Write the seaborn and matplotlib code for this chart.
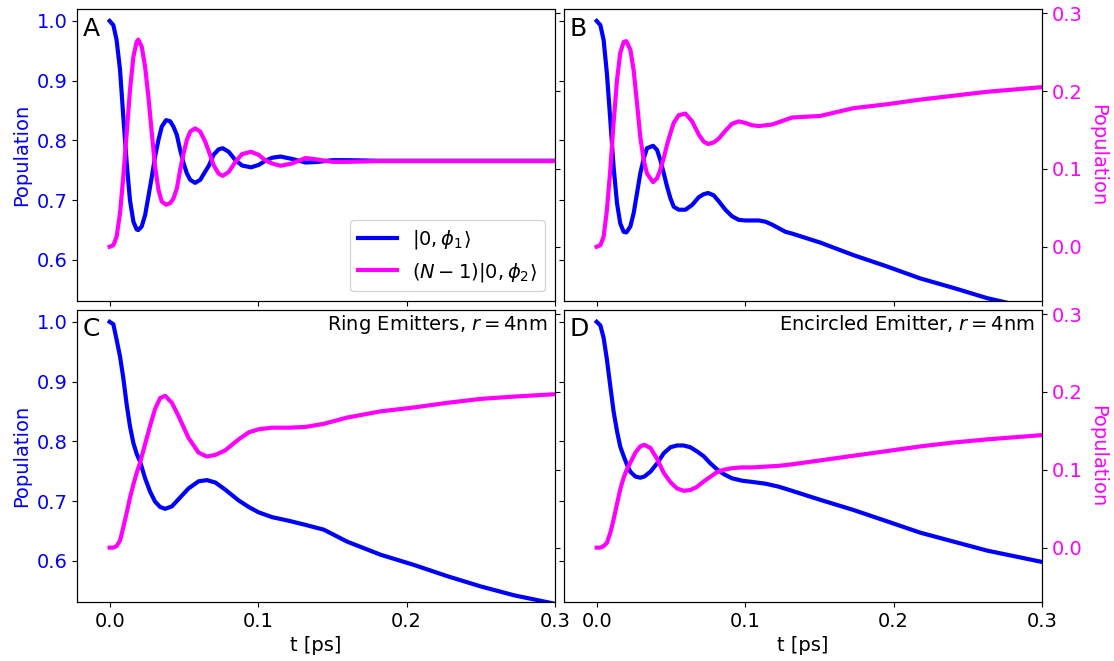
import matplotlib
matplotlib.use("Agg")
import matplotlib.pyplot as plt
import seaborn as sns

# --- data: time [ps], |0,phi1> (blue, left axis),
# --- (N-1)|0,phi2> (magenta, right axis)
t_a = [0, 0.0025, 0.0047, 0.0070, 0.0092, 0.0115, 0.0137, 0.0160, 0.0182, 0.0193,
       0.0216, 0.0239, 0.0261, 0.0284, 0.0306, 0.0329, 0.0351, 0.0380, 0.0408, 0.0430,
       0.0453, 0.0475, 0.0498, 0.0520, 0.0543, 0.0576, 0.0610, 0.0644, 0.0669, 0.0700,
       0.0734, 0.0761, 0.0802, 0.0847, 0.0892, 0.0952, 0.1004, 0.1049, 0.1094, 0.1151,
       0.123, 0.132, 0.14, 0.15, 0.16, 0.18, 0.2, 0.25, 0.3]
blue_a = [1.000, 0.993, 0.968, 0.918, 0.840, 0.762, 0.700, 0.664, 0.651, 0.650,
          0.656, 0.675, 0.706, 0.739, 0.773, 0.801, 0.823, 0.834, 0.832, 0.823,
          0.809, 0.784, 0.762, 0.745, 0.734, 0.729, 0.734, 0.748, 0.758, 0.776,
          0.785, 0.787, 0.781, 0.767, 0.758, 0.755, 0.759, 0.766, 0.771, 0.773,
          0.769, 0.763, 0.764, 0.767, 0.767, 0.766, 0.766, 0.766, 0.766]
mag_a = [0.000, 0.002, 0.013, 0.043, 0.090, 0.146, 0.201, 0.244, 0.263, 0.266,
         0.257, 0.231, 0.193, 0.146, 0.103, 0.073, 0.058, 0.054, 0.056, 0.062,
         0.075, 0.099, 0.120, 0.137, 0.148, 0.152, 0.148, 0.135, 0.122, 0.105,
         0.094, 0.091, 0.096, 0.109, 0.119, 0.122, 0.118, 0.111, 0.107, 0.104,
         0.107, 0.114, 0.112, 0.109, 0.109, 0.110, 0.110, 0.110, 0.110]

t_b = [0, 0.0025, 0.0047, 0.0069, 0.0092, 0.0114, 0.0137, 0.0159, 0.0182, 0.0200,
       0.0227, 0.0249, 0.0272, 0.0294, 0.0317, 0.0339, 0.0380, 0.0407, 0.0429, 0.0452,
       0.0474, 0.0497, 0.0519, 0.0553, 0.0598, 0.0643, 0.0688, 0.0721, 0.0751, 0.0789,
       0.0823, 0.0867, 0.0912, 0.0957, 0.1002, 0.1047, 0.1092, 0.1137, 0.1182, 0.1227,
       0.1272, 0.1317, 0.1506, 0.173, 0.1956, 0.218, 0.2405, 0.263, 0.2753, 0.3]
blue_b = [1.000, 0.993, 0.968, 0.912, 0.834, 0.756, 0.695, 0.661, 0.647, 0.646,
          0.656, 0.678, 0.712, 0.745, 0.770, 0.787, 0.791, 0.784, 0.767, 0.745,
          0.723, 0.703, 0.689, 0.684, 0.684, 0.692, 0.705, 0.710, 0.712, 0.708,
          0.698, 0.684, 0.673, 0.667, 0.666, 0.666, 0.666, 0.664, 0.659, 0.653,
          0.647, 0.644, 0.629, 0.608, 0.589, 0.569, 0.553, 0.536, 0.529, 0.512]
mag_b = [0.000, 0.002, 0.013, 0.047, 0.099, 0.159, 0.214, 0.249, 0.263, 0.264,
         0.253, 0.227, 0.184, 0.141, 0.111, 0.094, 0.083, 0.088, 0.099, 0.114,
         0.131, 0.146, 0.159, 0.169, 0.171, 0.161, 0.144, 0.135, 0.132, 0.134,
         0.139, 0.149, 0.158, 0.161, 0.159, 0.156, 0.155, 0.156, 0.157, 0.160,
         0.163, 0.166, 0.168, 0.178, 0.183, 0.189, 0.194, 0.199, 0.201, 0.205]

t_c = [0, 0.0025, 0.0047, 0.0070, 0.0092, 0.0115, 0.0137, 0.0160, 0.0182, 0.0205,
       0.0239, 0.0272, 0.0306, 0.0340, 0.0374, 0.0419, 0.0464, 0.0531, 0.0599, 0.0655,
       0.0712, 0.0779, 0.0869, 0.0937, 0.1004, 0.1094, 0.1206, 0.1320, 0.1443, 0.160,
       0.1826, 0.205, 0.2277, 0.25, 0.2727, 0.3]
blue_c = [1.000, 0.996, 0.970, 0.942, 0.906, 0.861, 0.825, 0.797, 0.779, 0.766,
          0.738, 0.716, 0.699, 0.690, 0.687, 0.691, 0.703, 0.721, 0.733, 0.735,
          0.731, 0.719, 0.701, 0.690, 0.681, 0.673, 0.667, 0.660, 0.652, 0.632,
          0.610, 0.593, 0.574, 0.557, 0.542, 0.528]
mag_c = [0.000, 0.000, 0.002, 0.009, 0.026, 0.045, 0.064, 0.081, 0.096, 0.109,
         0.133, 0.156, 0.178, 0.192, 0.195, 0.186, 0.169, 0.141, 0.122, 0.117,
         0.119, 0.125, 0.139, 0.148, 0.152, 0.154, 0.154, 0.155, 0.159, 0.167,
         0.175, 0.180, 0.186, 0.191, 0.194, 0.197]

t_d = [0, 0.0025, 0.0047, 0.0069, 0.0092, 0.0114, 0.0137, 0.0159, 0.0182, 0.0204,
       0.0227, 0.0261, 0.0294, 0.0321, 0.0362, 0.0407, 0.0452, 0.0497, 0.0541, 0.0586,
       0.0631, 0.0676, 0.0721, 0.0766, 0.0811, 0.0856, 0.0912, 0.0980, 0.1047, 0.1137,
       0.1227, 0.1317, 0.1506, 0.173, 0.1956, 0.218, 0.2405, 0.263, 0.3]
blue_d = [1.000, 0.994, 0.973, 0.937, 0.892, 0.850, 0.817, 0.791, 0.775, 0.761,
          0.749, 0.741, 0.739, 0.741, 0.749, 0.763, 0.780, 0.790, 0.793, 0.793,
          0.790, 0.783, 0.775, 0.763, 0.753, 0.745, 0.738, 0.734, 0.732, 0.729,
          0.724, 0.717, 0.702, 0.685, 0.666, 0.647, 0.632, 0.617, 0.598]
mag_d = [0.000, 0.000, 0.002, 0.006, 0.019, 0.036, 0.056, 0.075, 0.090, 0.101,
         0.109, 0.122, 0.130, 0.132, 0.128, 0.114, 0.096, 0.084, 0.076, 0.073,
         0.074, 0.078, 0.085, 0.091, 0.097, 0.100, 0.102, 0.103, 0.103, 0.104,
         0.105, 0.107, 0.112, 0.118, 0.124, 0.130, 0.135, 0.139, 0.1445]

letters = ["A", "B", "C", "D"]
notes = [None, None, "Ring Emitters, $r=4$nm", "Encircled Emitter, $r=4$nm"]
legend_labels = [r"$|0,\phi_1\rangle$", r"$(N-1)|0,\phi_2\rangle$"]

BLUE = "#0000ff"
MAGENTA = "#ff00ff"

plt.rcParams["font.family"] = ["DejaVu Sans"]
plt.rcParams["font.size"] = 14

fig, axs = plt.subplots(2, 2, figsize=(11.14, 6.61), dpi=100,
                        sharex=True, sharey=True)
fig.subplots_adjust(left=0.0691, right=0.9354, top=0.986, bottom=0.0893,
                    wspace=0.0188, hspace=0.0308)

panels = [(t_a, blue_a, mag_a), (t_b, blue_b, mag_b),
          (t_c, blue_c, mag_c), (t_d, blue_d, mag_d)]

for i, (ax, (t, b, m)) in enumerate(zip(axs.flat, panels)):
    tw = ax.twinx()
    sns.lineplot(x=t, y=b, ax=ax, color=BLUE, lw=3, legend=False)
    sns.lineplot(x=t, y=m, ax=tw, color=MAGENTA, lw=3, legend=False)

    ax.set_xlim(-0.022, 0.3)
    ax.set_ylim(0.531, 1.0196)
    tw.set_ylim(-0.0698, 0.305)
    ax.set_xticks([0.0, 0.1, 0.2, 0.3])
    ax.set_yticks([0.6, 0.7, 0.8, 0.9, 1.0])
    tw.set_yticks([0.0, 0.1, 0.2, 0.3])
    ax.set_ylabel("")
    tw.set_ylabel("")

    col = i % 2
    row = i // 2
    if col == 0:
        ax.tick_params(axis="y", labelcolor=BLUE)
        ax.set_ylabel("Population", color=BLUE)
        tw.tick_params(axis="y", labelright=False)
    else:
        tw.tick_params(axis="y", labelcolor=MAGENTA)
        tw.set_ylabel("Population", color=MAGENTA, rotation=270, va="bottom")
    if row == 1:
        ax.set_xlabel("t [ps]")

    tw.text(0.012, 0.975, letters[i], transform=ax.transAxes,
            fontsize=18, ha="left", va="top")
    if notes[i]:
        tw.text(0.985, 0.99, notes[i], transform=ax.transAxes,
                fontsize=14, ha="right", va="top")

    if i == 0:
        tw.legend([ax.lines[0], tw.lines[0]], legend_labels,
                  loc="lower right", fontsize=14)

fig.savefig("out.png", dpi=100)
